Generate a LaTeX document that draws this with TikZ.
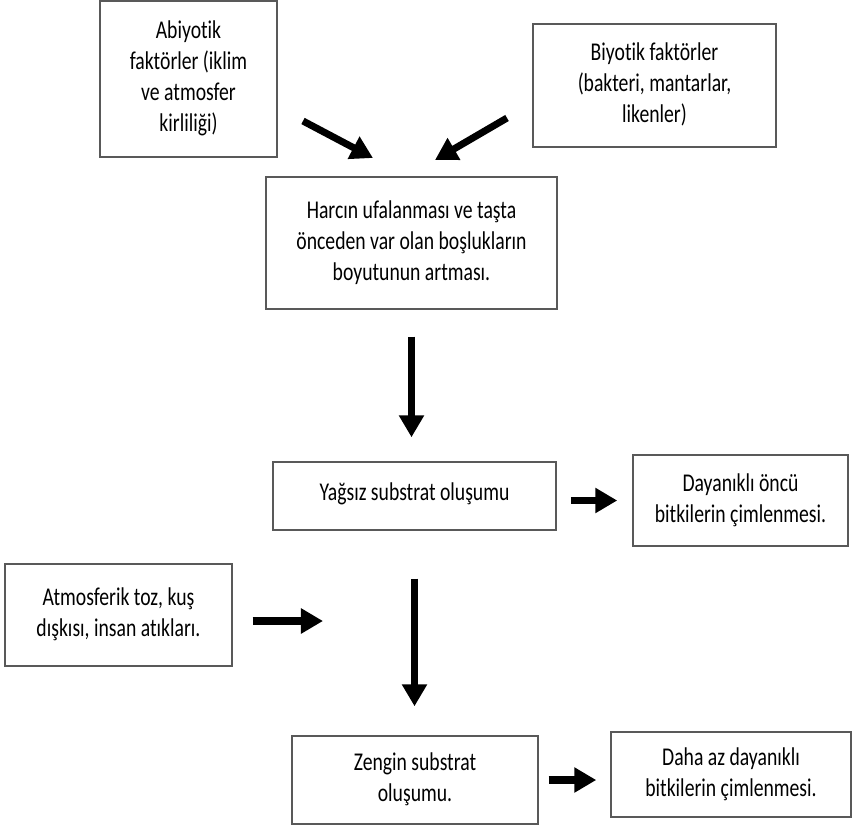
\documentclass[tikz,border=0pt]{standalone}
\usepackage{fontspec}
\setmainfont{Carlito}[Ligatures=NoCommon]
\usepackage{graphicx}
\usetikzlibrary{arrows.meta}

% text in the boxes is set a little taller than wide
\newcommand{\stretched}[1]{\scalebox{1}[1.3]{\begin{tabular}{@{}c@{}}#1\end{tabular}}}

\tikzset{
  box/.style={draw=black!65, line width=1pt, rectangle, inner sep=0pt,
    font=\fontsize{14}{17}\selectfont},
  flow/.style={line width=5pt, -{Triangle[length=0.55cm,width=0.6cm]}},
}

\begin{document}
\begin{tikzpicture}[x=0.025cm, y=-0.025cm]
    \useasboundingbox (0,0) rectangle (853,829);

    % Boxes:
    \node [box, minimum width=4.425cm, minimum height=3.9cm] (abiyotik) at (188.5,79)
        {\stretched{Abiyotik\\faktörler (iklim\\ve atmosfer\\kirliliği)}};
    \node [box, minimum width=6.075cm, minimum height=3.075cm] (biyotik) at (654.5,85.5)
        {\stretched{Biyotik faktörler\\(bakteri, mantarlar,\\likenler)}};
    \node [box, minimum width=7.275cm, minimum height=3.3cm] (harcin) at (411.5,243)
        {\stretched{Harcın ufalanması ve taşta\\önceden var olan boşlukların\\boyutunun artması.}};
    \node [box, minimum width=7.075cm, minimum height=1.7cm, text depth=0.3cm] (yagsiz) at (414.5,496)
        {\stretched{Yağsız substrat oluşumu}};
    \node [box, minimum width=5.375cm, minimum height=2.275cm] (dayanikli) at (740.5,500.5)
        {\stretched{Dayanıklı öncü\\bitkilerin çimlenmesi.}};
    \node [box, minimum width=5.675cm, minimum height=2.55cm] (atm) at (118.5,615)
        {\stretched{Atmosferik toz, kuş\\dışkısı, insan atıkları.}};
    \node [box, minimum width=6.15cm, minimum height=2.2cm] (zengin) at (415,780)
        {\stretched{Zengin substrat\\oluşumu.}};
    \node [box, minimum width=6cm, minimum height=2.125cm] (dahaaz) at (731,774.5)
        {\stretched{Daha az dayanıklı\\bitkilerin çimlenmesi.}};

    % Arrows:
    \coordinate (ab-start) at (303,121);
    \coordinate (ab-end)   at (373,158);
    \coordinate (bi-start) at (507,118);
    \coordinate (bi-end)   at (435,160);
    \coordinate (atm-end)  at (323,621);

    \draw [flow] (ab-start) -- (ab-end);
    \draw [flow] (bi-start) -- (bi-end);
    \draw [flow, shorten <=0.675cm, shorten >=0.6cm] (harcin.south) -- (harcin.south |- yagsiz.north);
    \draw [flow, shorten <=0.35cm, shorten >=0.375cm] (dayanikli.west -| yagsiz.east) -- (dayanikli.west);
    \draw [flow, shorten <=0.5cm] (atm.east |- atm-end) -- (atm-end);
    \draw [flow, shorten <=1.2cm, shorten >=0.725cm] (yagsiz.south) -- (yagsiz.south |- zengin.north);
    \draw [flow, shorten <=0.25cm, shorten >=0.35cm] (zengin.east) -- (zengin.east -| dahaaz.west);
\end{tikzpicture}
\end{document}
